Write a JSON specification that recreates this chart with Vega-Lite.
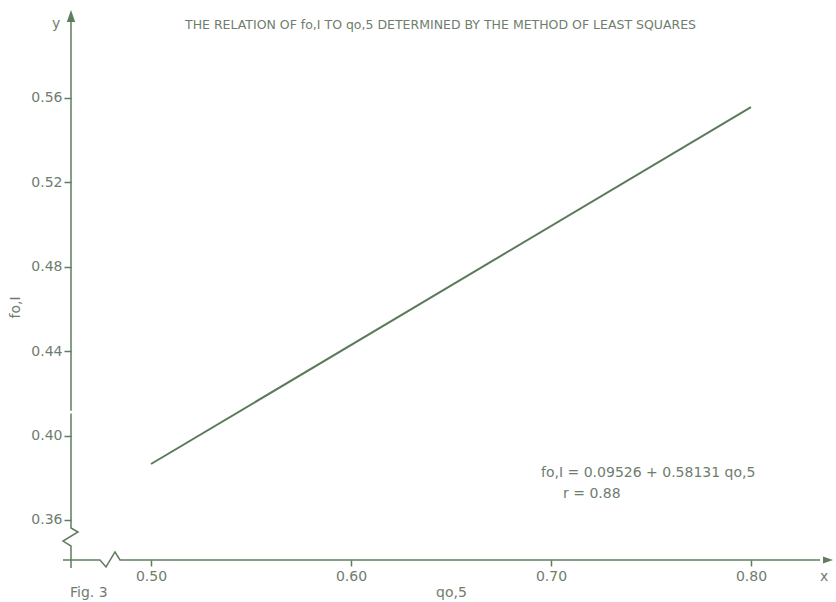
{
  "$schema": "https://vega.github.io/schema/vega-lite/v6.json",
  "width": 760,
  "height": 550,
  "autosize": {"type": "none"},
  "padding": {"left": 71, "top": 10, "right": 5, "bottom": 42},
  "background": "#ffffff",
  "config": {"view": {"stroke": null}, "font": "DejaVu Sans"},
  "datasets": {
    "fit": [{"x": 0.50, "y": 0.3865}, {"x": 0.80, "y": 0.5557}],
    "axes": [
      {"part": "y", "o": 1, "x": 0.46, "y": 0.3372},
      {"part": "y", "o": 2, "x": 0.46, "y": 0.34763},
      {"part": "y", "o": 3, "x": 0.456, "y": 0.3500},
      {"part": "y", "o": 4, "x": 0.4635, "y": 0.35427},
      {"part": "y", "o": 5, "x": 0.46, "y": 0.35617},
      {"part": "y", "o": 6, "x": 0.46, "y": 0.4105},
      {"part": "y2", "o": 1, "x": 0.46, "y": 0.4117},
      {"part": "y2", "o": 2, "x": 0.46, "y": 0.597},
      {"part": "x", "o": 1, "x": 0.456, "y": 0.341},
      {"part": "x", "o": 2, "x": 0.4745, "y": 0.341},
      {"part": "x", "o": 3, "x": 0.4775, "y": 0.3377},
      {"part": "x", "o": 4, "x": 0.482, "y": 0.3448},
      {"part": "x", "o": 5, "x": 0.4845, "y": 0.341},
      {"part": "x", "o": 6, "x": 0.8345, "y": 0.341}
    ],
    "arrowUp": [{"x": 0.46, "y": 0.59882}],
    "arrowRight": [{"x": 0.8385, "y": 0.341}],
    "heading": [{"x": 0.517, "y": 0.5946, "text": "THE RELATION OF fo,I TO qo,5 DETERMINED BY THE METHOD OF LEAST SQUARES"}],
    "notes": [
      {"x": 0.4505, "y": 0.5950, "text": "y"},
      {"x": 0.8345, "y": 0.33294, "text": "x"},
      {"x": 0.4595, "y": 0.32536, "text": "Fig. 3"},
      {"x": 0.695, "y": 0.38223, "text": "fo,I = 0.09526 + 0.58131 qo,5"},
      {"x": 0.706, "y": 0.37228, "text": "r = 0.88"}
    ]
  },
  "layer": [
    {
      "data": {"name": "axes"},
      "mark": {"type": "line", "color": "#5f7d5f", "strokeWidth": 1.5},
      "encoding": {
        "x": {
          "field": "x", "type": "quantitative",
          "scale": {"domain": [0.46, 0.84], "nice": false, "zero": false},
          "axis": {
            "title": "qo,5", "values": [0.5, 0.6, 0.7, 0.8], "format": ".2f",
            "domain": false, "grid": false, "tickSize": 6, "tickColor": "#5f7d5f", "tickWidth": 1.5,
            "labelPadding": 3, "labelFontSize": 14, "labelColor": "#6e7d6e", "labelFont": "DejaVu Sans",
            "titleFont": "DejaVu Sans", "titleFontSize": 14, "titleFontWeight": "normal", "titleColor": "#6e7d6e",
            "titlePadding": 2
          }
        },
        "y": {
          "field": "y", "type": "quantitative",
          "scale": {"domain": [0.341, 0.6017], "nice": false, "zero": false},
          "axis": {
            "title": "fo,I", "values": [0.36, 0.40, 0.44, 0.48, 0.52, 0.56], "format": ".2f",
            "domain": false, "grid": false, "tickSize": 7, "tickColor": "#5f7d5f", "tickWidth": 1.5,
            "labelPadding": 2, "labelFontSize": 14, "labelColor": "#6e7d6e", "labelFont": "DejaVu Sans",
            "titleFont": "DejaVu Sans", "titleFontSize": 14, "titleFontWeight": "normal", "titleColor": "#6e7d6e",
            "titleX": -56, "titleY": 297, "titleAngle": -90, "titleAlign": "center", "titleBaseline": "middle"
          }
        },
        "detail": {"field": "part", "type": "nominal"},
        "order": {"field": "o", "type": "quantitative"}
      }
    },
    {
      "data": {"name": "fit"},
      "mark": {"type": "line", "color": "#5b7a5b", "strokeWidth": 2},
      "encoding": {
        "x": {"field": "x", "type": "quantitative"},
        "y": {"field": "y", "type": "quantitative"}
      }
    },
    {
      "data": {"name": "arrowUp"},
      "mark": {"type": "point", "filled": true, "opacity": 1, "color": "#5f7d5f", "size": 144, "shape": "M0,-1L0.7,1L-0.7,1Z"},
      "encoding": {
        "x": {"field": "x", "type": "quantitative"},
        "y": {"field": "y", "type": "quantitative"}
      }
    },
    {
      "data": {"name": "arrowRight"},
      "mark": {"type": "point", "filled": true, "opacity": 1, "color": "#5f7d5f", "size": 100, "shape": "M1,0L-1,0.7L-1,-0.7Z"},
      "encoding": {
        "x": {"field": "x", "type": "quantitative"},
        "y": {"field": "y", "type": "quantitative"}
      }
    },
    {
      "data": {"name": "heading"},
      "mark": {"type": "text", "align": "left", "baseline": "middle", "fontSize": 12.5, "font": "DejaVu Sans", "color": "#6e7d6e"},
      "encoding": {
        "x": {"field": "x", "type": "quantitative"},
        "y": {"field": "y", "type": "quantitative"},
        "text": {"field": "text"}
      }
    },
    {
      "data": {"name": "notes"},
      "mark": {"type": "text", "align": "left", "baseline": "middle", "fontSize": 14, "font": "DejaVu Sans", "color": "#6e7d6e"},
      "encoding": {
        "x": {"field": "x", "type": "quantitative"},
        "y": {"field": "y", "type": "quantitative"},
        "text": {"field": "text"}
      }
    }
  ]
}
